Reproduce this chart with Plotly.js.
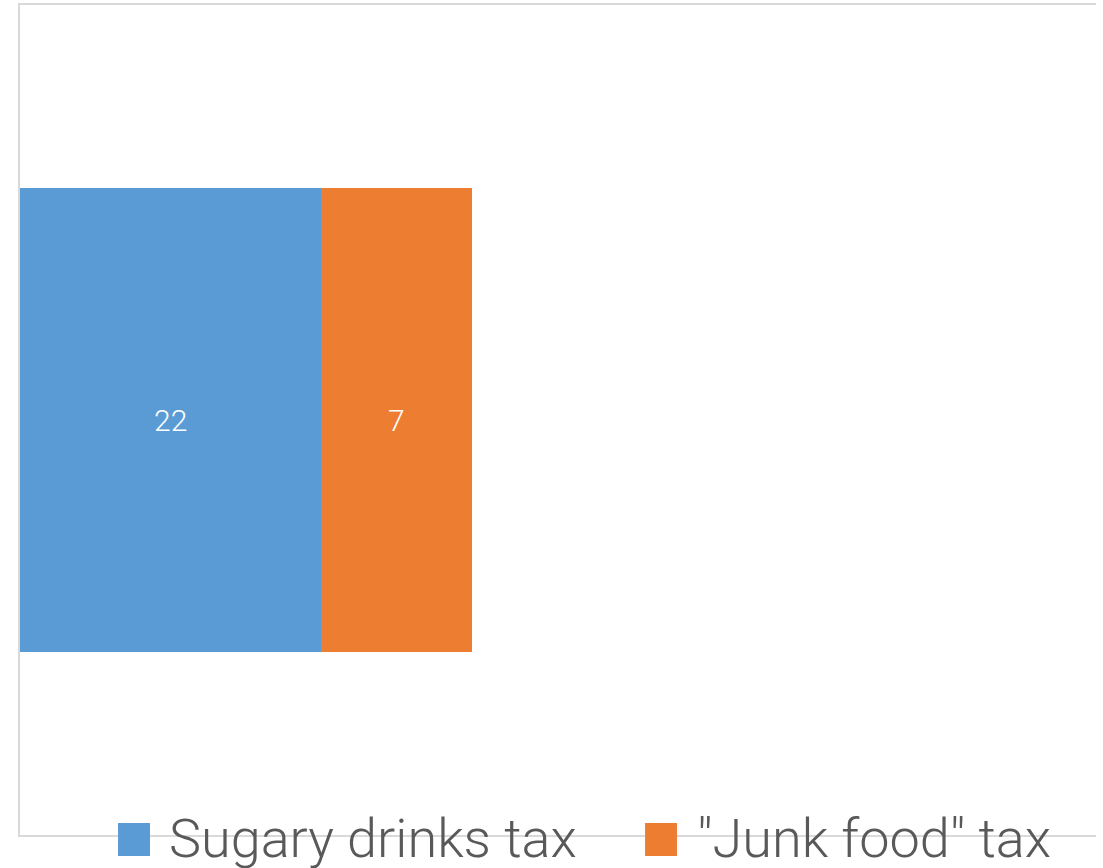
<!DOCTYPE html>
<html>
<head>
<meta charset="utf-8">
<script src="https://cdn.plot.ly/plotly-3.0.1.min.js"></script>
<style>html,body{margin:0;padding:0;background:#fff;}#chart{width:1103px;height:868px;}</style>
</head>
<body>
<div id="chart"></div>
<script>
var categories = ["Tax"];
var seriesNames = ["Sugary drinks tax", "\"Junk food\" tax"];
var sugaryValues = [22];
var junkValues = [7];
var seriesColors = ["#5b9bd5", "#ed7d31"];

var xRange = [8, 58];
var seriesValues = [sugaryValues, junkValues];
var traces = seriesValues.map(function (vals, i) {
  return {
    type: "bar",
    orientation: "h",
    y: categories,
    x: vals,
    name: seriesNames[i],
    marker: {color: seriesColors[i]},
    textposition: "none",
    hoverinfo: "skip",
    showlegend: false
  };
});

var annotations = [], shapes = [];
// data labels: centred on the visible part of each stacked segment
var cum = categories.map(function () { return 0; });
seriesValues.forEach(function (vals) {
  vals.forEach(function (v, j) {
    var start = cum[j], end = cum[j] + v;
    var visStart = Math.max(start, xRange[0]);
    annotations.push({xref: "x", yref: "y", x: (visStart + end) / 2, y: j,
      text: String(v), showarrow: false, xanchor: "center", yanchor: "middle",
      font: {family: "Roboto, Liberation Sans, sans-serif", size: 30, color: "#ffffff", weight: 300}});
    cum[j] = end;
  });
});

var legendBoxes = [
  {x0: 0.0911, x1: 0.1208, tx: 0.1366},
  {x0: 0.5809, x1: 0.6106, tx: 0.6273}
];
seriesNames.forEach(function (n, i) {
  var b = legendBoxes[i];
  shapes.push({type: "rect", xref: "paper", yref: "paper", x0: b.x0, x1: b.x1, y0: -0.0253, y1: 0.0145,
    fillcolor: seriesColors[i], line: {width: 0}});
  annotations.push({xref: "paper", yref: "paper", x: b.tx, y: -0.004, xanchor: "left", yanchor: "middle",
    text: n, showarrow: false,
    font: {family: "Roboto, Liberation Sans, sans-serif", size: 54, color: "#595959", weight: 300}});
});

var layout = {
  width: 1103, height: 868,
  margin: {l: 20, r: 7, t: 5, b: 33},
  paper_bgcolor: "#ffffff", plot_bgcolor: "#ffffff",
  barmode: "stack",
  bargap: 0.441,
  showlegend: false,
  xaxis: {range: xRange, showgrid: false, zeroline: false, showticklabels: false, ticks: "",
    showline: true, mirror: true, linecolor: "#d9d9d9", linewidth: 2, fixedrange: true},
  yaxis: {type: "category", range: [-0.5, 0.5], showgrid: false, zeroline: false, showticklabels: false, ticks: "",
    showline: true, mirror: false, linecolor: "#d9d9d9", linewidth: 2, fixedrange: true},
  shapes: shapes,
  annotations: annotations
};

Plotly.newPlot("chart", traces, layout, {displayModeBar: false, staticPlot: true});
</script>
</body>
</html>
